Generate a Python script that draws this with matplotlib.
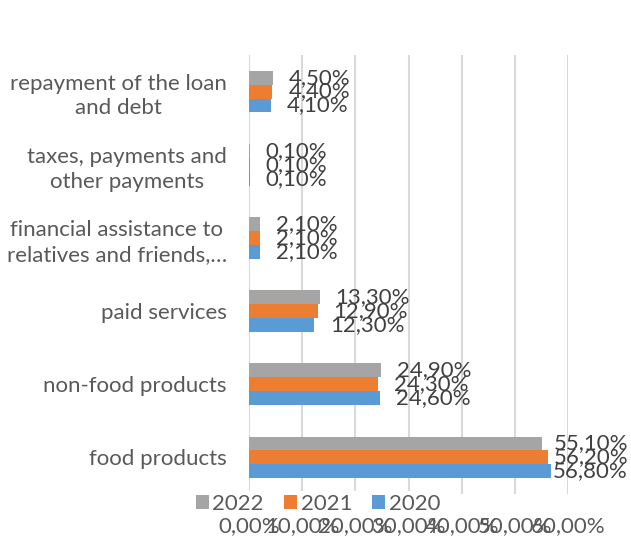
import matplotlib
matplotlib.use('Agg')
import matplotlib.pyplot as plt
import numpy as np
from matplotlib.patches import Patch

# ---- data ----
categories = ["food products", "non-food products", "paid services",
              "financial assistance to\nrelatives and friends,\u2026",
              "taxes, payments and\nother payments",
              "repayment of the loan\nand debt"]
years = ["2020", "2021", "2022"]
v2020 = [56.8, 24.6, 12.3, 2.1, 0.1, 4.1]
v2021 = [56.2, 24.3, 12.9, 2.1, 0.1, 4.4]
v2022 = [55.1, 24.9, 13.3, 2.1, 0.1, 4.5]
xticks = [0, 10, 20, 30, 40, 50, 60]
colors = ["#5B9BD5", "#ED7D31", "#A5A5A5"]

FONT = "Lato"
FS = 16
plt.rcParams['font.family'] = [FONT, 'DejaVu Sans']

def fmt(v):
    return ("%.2f%%" % v).replace('.', ',')

W, H = 631, 537
fig = plt.figure(figsize=(W / 100, H / 100), dpi=100)
x0, x1 = 249, 568
y0, y1 = 55, 494
ax = fig.add_axes([x0 / W, 1 - y1 / H, (x1 - x0) / W, (y1 - y0) / H])

series = [v2020, v2021, v2022]
bh = 0.19
y = np.arange(len(categories))
texts = []
for i, (vals, c) in enumerate(zip(series, colors)):
    off = (i - 1) * bh
    ax.barh(y + off, vals, height=bh, color=c, zorder=3)
    for yy, v in zip(y, vals):
        t = ax.text(v + 3.0, yy + off, fmt(v), ha='left', va='center',
                    fontsize=FS, color='#404040', zorder=4)
        texts.append(t)

ax.set_xlim(0, 60)
ax.set_ylim(-0.5, len(categories) - 0.5)
ax.set_xticks(xticks)
ax.set_xticklabels([fmt(t) for t in xticks], fontsize=FS, color='#595959')
ax.set_yticks(y)
ax.set_yticklabels(categories, fontsize=FS, color='#595959',
                   multialignment='center', linespacing=1.3)
ax.tick_params(axis='both', length=0)
ax.tick_params(axis='y', pad=16)
ax.tick_params(axis='x', pad=16)
for s in ax.spines.values():
    s.set_visible(False)
ax.grid(axis='x', color='#D9D9D9', linewidth=1.5, zorder=0)
ax.set_axisbelow(True)

handles = [Patch(facecolor=colors[2], label=years[2]),
           Patch(facecolor=colors[1], label=years[1]),
           Patch(facecolor=colors[0], label=years[0])]
leg = fig.legend(handles=handles, loc='center', bbox_to_anchor=(318 / W, 1 - 504 / H),
                 ncol=3, fontsize=FS, frameon=True, facecolor='white', edgecolor='none',
                 framealpha=1, handlelength=0.6, handleheight=0.6, handletextpad=0.15,
                 columnspacing=0.9, borderpad=0.15)
for t in leg.get_texts():
    t.set_color('#595959')

# keep data labels inside the figure
fig.canvas.draw()
r = fig.canvas.get_renderer()
inv = ax.transData.inverted()
for t in texts:
    bb = t.get_window_extent(r)
    limit = W - 3
    if bb.x1 > limit:
        dx = bb.x1 - limit
        xd, yd = t.get_position()
        px, py = ax.transData.transform((xd, yd))
        nx, _ = inv.transform((px - dx, py))
        t.set_position((nx, yd))

fig.savefig("out.png", dpi=100)
